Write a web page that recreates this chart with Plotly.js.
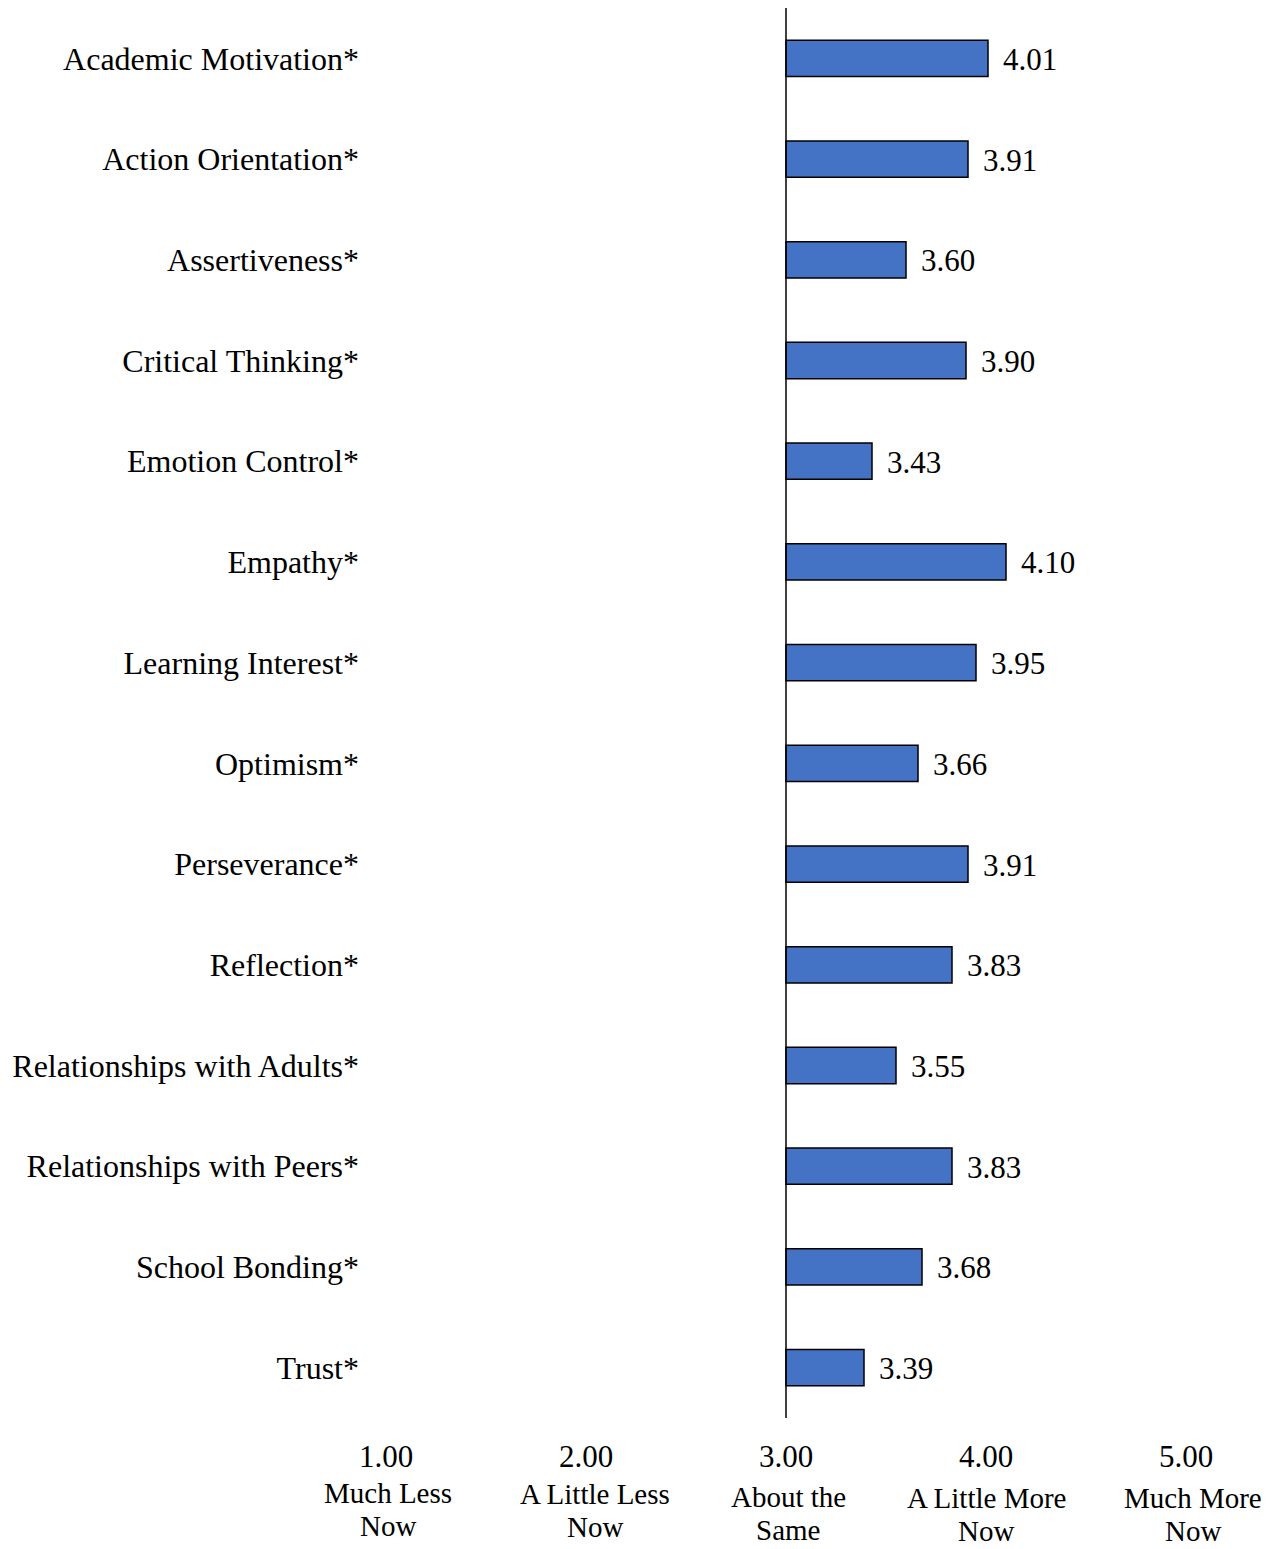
<!DOCTYPE html>
<html>
<head>
<meta charset="utf-8">
<script src="https://cdn.plot.ly/plotly-3.0.1.min.js"></script>
<style>html,body{margin:0;padding:0;background:#fff;}</style>
</head>
<body>
<div id="chart" style="width:1278px;height:1549px;"></div>
<script>
const categories = ["Academic Motivation*","Action Orientation*","Assertiveness*","Critical Thinking*","Emotion Control*","Empathy*","Learning Interest*","Optimism*","Perseverance*","Reflection*","Relationships with Adults*","Relationships with Peers*","School Bonding*","Trust*"];
const values = [4.01,3.91,3.60,3.90,3.43,4.10,3.95,3.66,3.91,3.83,3.55,3.83,3.68,3.39];
const baseline = 3;
const tickValues = [1,2,3,4,5];
const tickLine1 = ["Much Less","A Little Less","About the","A Little More","Much More"];
const tickLine2 = ["Now","Now","Same","Now","Now"];

const FONT = "Liberation Serif, Times New Roman, serif";

const trace = {
  type: "bar",
  orientation: "h",
  y: categories,
  x: values.map(v => v - baseline),
  base: baseline,
  width: 0.36,
  marker: {color: "#4472C4", line: {color: "#000000", width: 1.5}},
  hoverinfo: "skip"
};

const annotations = [];
values.forEach((v, i) => {
  annotations.push({
    x: v, y: categories[i], xref: "x", yref: "y",
    text: v.toFixed(2), showarrow: false,
    xanchor: "left", yanchor: "middle", xshift: 13, yshift: -1,
    font: {family: FONT, size: 31, color: "#000"}
  });
});
const shiftY1 = [-75, -76, -79, -80, -80];
const shiftX = [2, 9, 2, 0, 7];
tickValues.forEach((t, i) => {
  annotations.push({
    x: t, y: 0, xref: "x", yref: "paper",
    text: tickLine1[i], showarrow: false,
    xanchor: "center", yanchor: "middle", yshift: shiftY1[i], xshift: shiftX[i],
    font: {family: FONT, size: 29, color: "#000"}
  });
  annotations.push({
    x: t, y: 0, xref: "x", yref: "paper",
    text: tickLine2[i], showarrow: false,
    xanchor: "center", yanchor: "middle", yshift: shiftY1[i] - 33, xshift: shiftX[i],
    font: {family: FONT, size: 29, color: "#000"}
  });
});

const layout = {
  width: 1278, height: 1549,
  margin: {l: 386, r: 92, t: 8, b: 131, pad: 0},
  paper_bgcolor: "#fff", plot_bgcolor: "#fff",
  showlegend: false,
  xaxis: {
    range: [1, 5], tickvals: tickValues, ticktext: tickValues.map(t => t.toFixed(2)),
    showgrid: false, zeroline: false, showline: false, ticks: "",
    ticklabelstandoff: 17,
    tickfont: {family: FONT, size: 31, color: "#000"}, fixedrange: true
  },
  yaxis: {
    autorange: "reversed", type: "category",
    showgrid: false, zeroline: false, showline: false, ticks: "",
    ticklabelstandoff: 26,
    tickfont: {family: FONT, size: 32, color: "#000"}, fixedrange: true
  },
  shapes: [{
    type: "line", xref: "x", yref: "paper", x0: baseline, x1: baseline, y0: 0, y1: 1,
    line: {color: "#000", width: 1.5}
  }],
  annotations: annotations
};

Plotly.newPlot("chart", [trace], layout, {staticPlot: true, displayModeBar: false});
</script>
</body>
</html>
